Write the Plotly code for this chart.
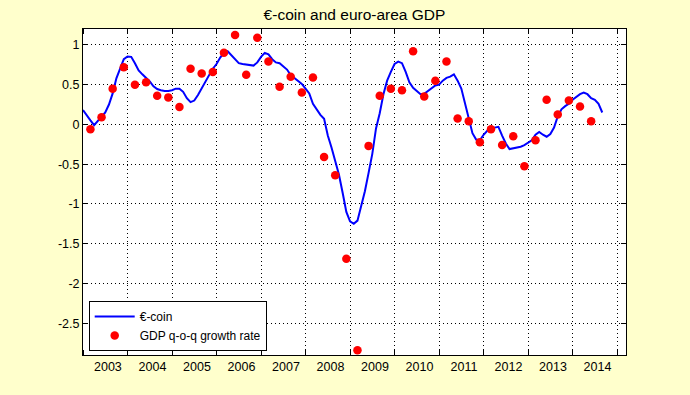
import plotly.graph_objects as go

# ---- data ----
# €-coin, monthly, Jan 2003 .. Sep 2014
ecoin_start_year = 2003
ecoin = [
    0.18, 0.11, 0.05, -0.01, 0.04, 0.09, 0.15, 0.25, 0.39, 0.58, 0.71, 0.82,   # 2003
    0.855, 0.85, 0.77, 0.68, 0.63, 0.59, 0.54, 0.48, 0.445, 0.43, 0.42, 0.42,  # 2004
    0.43, 0.45, 0.45, 0.41, 0.33, 0.28, 0.30, 0.37, 0.46, 0.55, 0.62, 0.70,    # 2005
    0.76, 0.84, 0.90, 0.92, 0.87, 0.82, 0.77, 0.76, 0.755, 0.75, 0.74, 0.78,   # 2006
    0.85, 0.90, 0.88, 0.82, 0.78, 0.77, 0.73, 0.69, 0.62, 0.58, 0.54, 0.51,    # 2007
    0.45, 0.39, 0.26, 0.19, 0.12, 0.07, -0.14, -0.29, -0.45, -0.63, -0.86, -1.10,  # 2008
    -1.22, -1.25, -1.21, -1.02, -0.84, -0.61, -0.37, -0.05, 0.14, 0.38, 0.55, 0.66,  # 2009
    0.76, 0.79, 0.77, 0.66, 0.53, 0.46, 0.42, 0.38, 0.385, 0.42, 0.46, 0.49,   # 2010
    0.50, 0.55, 0.585, 0.60, 0.63, 0.55, 0.45, 0.25, 0.06, -0.11, -0.19, -0.20,  # 2011
    -0.13, -0.08, -0.05, -0.04, -0.03, -0.14, -0.24, -0.31, -0.30, -0.29, -0.28, -0.26,  # 2012
    -0.235, -0.20, -0.13, -0.095, -0.13, -0.155, -0.12, -0.04, 0.10, 0.19, 0.23, 0.26,  # 2013
    0.31, 0.35, 0.38, 0.40, 0.38, 0.33, 0.31, 0.26, 0.15,                      # 2014 (Jan-Sep)
]

# GDP q-o-q growth rate, quarterly, 2003Q1 .. 2014Q2 (plotted at quarter-end month)
gdp = [
    -0.06, 0.09, 0.45, 0.72,    # 2003
    0.50, 0.53, 0.36, 0.34,     # 2004
    0.22, 0.70, 0.64, 0.66,     # 2005
    0.90, 1.125, 0.625, 1.09,   # 2006
    0.79, 0.475, 0.60, 0.40,    # 2007
    0.59, -0.41, -0.64, -1.69,  # 2008
    -2.84, -0.27, 0.36, 0.45,   # 2009
    0.43, 0.92, 0.35, 0.55,     # 2010
    0.79, 0.075, 0.04, -0.225,  # 2011
    -0.06, -0.26, -0.15, -0.525,  # 2012
    -0.20, 0.31, 0.125, 0.30,   # 2013
    0.225, 0.04,                # 2014
]

years = list(range(2003, 2015))
year_labels = [str(y) for y in years]
y_ticks = [-2.5, -2, -1.5, -1, -0.5, 0, 0.5, 1]
y_tick_labels = ["-2.5", "-2", "-1.5", "-1", "-0.5", "0", "0.5", "1"]

# time coordinates: year + (month-1)/12
ecoin_x = [ecoin_start_year + i / 12 for i in range(len(ecoin))]
gdp_x = [2003 + (3 * q + 2) / 12 for q in range(len(gdp))]

FONT = "Liberation Sans, Arial, Helvetica, sans-serif"

fig = go.Figure()
fig.add_trace(go.Scatter(
    x=ecoin_x, y=ecoin, mode="lines", name="€-coin",
    line=dict(color="#0000FF", width=2),
))
fig.add_trace(go.Scatter(
    x=gdp_x, y=gdp, mode="markers", name="GDP q-o-q growth rate",
    marker=dict(color="#FF0000", size=8.5, line=dict(width=0)),
))

fig.update_layout(
    width=690, height=395,
    margin=dict(l=83, r=64, t=29, b=40),
    paper_bgcolor="#FFFFCC",
    plot_bgcolor="#FFFFFF",
    font=dict(family=FONT, size=12, color="#000000"),
    title=dict(text="€-coin and euro-area GDP", x=0.5, xref="paper",
               xanchor="center", y=0.964, yanchor="middle", yref="container",
               font=dict(size=15.5, family=FONT, color="#000000")),
    showlegend=True,
    legend=dict(x=0.0105, y=0.012, xanchor="left", yanchor="bottom",
                bgcolor="#FFFFFF", bordercolor="#000000", borderwidth=1,
                font=dict(size=12, family=FONT), itemwidth=40,
                tracegroupgap=0),
)

fig.update_xaxes(
    range=[2003, 2015.2],
    tickmode="array",
    tickvals=[y + 0.56 for y in years],
    ticktext=year_labels,
    ticks="", showgrid=False, zeroline=False,
    showline=True, linecolor="#000000", linewidth=1, mirror="ticks",
    tickfont=dict(size=12.5, family=FONT),
    minor=dict(tick0=2004, dtick=1, ticks="inside", ticklen=5,
               tickcolor="#000000", showgrid=True, gridcolor="#000000",
               griddash="1px,3px", gridwidth=1),
)
fig.update_yaxes(
    range=[-2.9, 1.2],
    tickmode="array", tickvals=y_ticks, ticktext=y_tick_labels,
    ticks="inside", ticklen=5, tickcolor="#000000",
    showgrid=True, gridcolor="#000000", griddash="1px,3px", gridwidth=1,
    zeroline=False,
    showline=True, linecolor="#000000", linewidth=1, mirror="ticks",
    tickfont=dict(size=12.5, family=FONT),
)

fig.write_html(
    "out.html",
    config={"displayModeBar": False},
    post_script="document.body.style.margin='0';document.body.style.overflow='hidden';",
)
